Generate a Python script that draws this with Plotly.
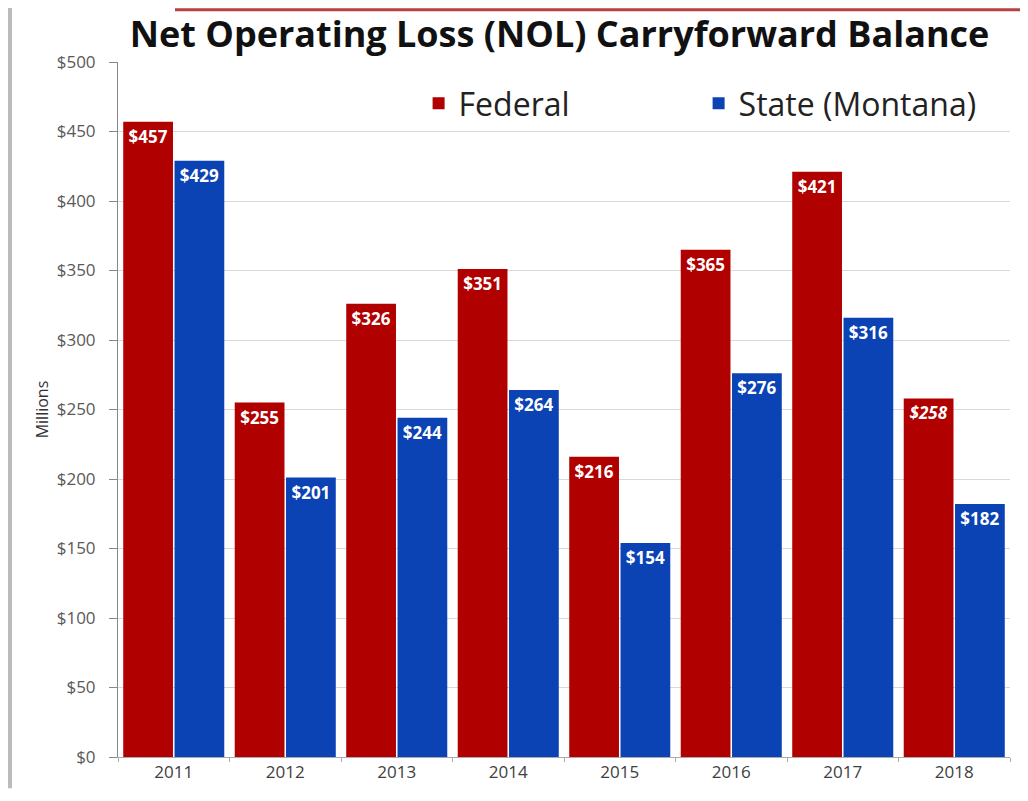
import plotly.graph_objects as go

years = ["2011", "2012", "2013", "2014", "2015", "2016", "2017", "2018"]
federal = [457, 255, 326, 351, 216, 365, 421, 258]
state = [429, 201, 244, 264, 154, 276, 316, 182]
y_ticks = [0, 50, 100, 150, 200, 250, 300, 350, 400, 450, 500]
y_tick_labels = ["$" + str(v) for v in y_ticks]

fed_text = ["$" + str(v) for v in federal]
fed_text[-1] = "<i>" + fed_text[-1] + "</i>"
state_text = ["$" + str(v) for v in state]

label_font = dict(family="Open Sans", size=17, color="white", weight="bold")

fig = go.Figure()
fig.add_trace(go.Bar(
    x=years, y=federal, name="Federal", marker=dict(color="#B00000", line=dict(width=0)),
    text=fed_text, textposition="inside", insidetextanchor="end", textangle=0,
    textfont=label_font,
))
fig.add_trace(go.Bar(
    x=years, y=state, name="State (Montana)", marker=dict(color="#0B42B4", line=dict(width=0)),
    text=state_text, textposition="inside", insidetextanchor="end", textangle=0,
    textfont=label_font,
))

fig.update_layout(
    width=1012, height=785,
    margin=dict(l=110, r=10, t=54, b=30),
    paper_bgcolor="white", plot_bgcolor="white",
    barmode="group", bargap=0.08, bargroupgap=0.03,
    uniformtext=dict(mode="show", minsize=10),
    title=dict(
        text="<b>Net Operating Loss (NOL) Carryforward Balance</b>",
        font=dict(family="Open Sans", size=36, color="#111111"),
        x=0.545, xanchor="center", y=0.967, yanchor="middle",
    ),
    legend=dict(
        orientation="h", x=0.337, y=0.98, xanchor="left", yanchor="top",
        font=dict(family="Open Sans", size=32, color="#222222"),
        bgcolor="rgba(255,255,255,0)", itemwidth=30, traceorder="normal",
        entrywidth=235,
    ),
    yaxis=dict(
        range=[0, 500], tickvals=y_ticks, ticktext=y_tick_labels,
        showgrid=True, gridcolor="#D9D9D9", gridwidth=1,
        showline=True, linecolor="#888888", linewidth=1,
        ticks="outside", ticklen=8, tickcolor="#888888", ticklabelstandoff=10,
        tickfont=dict(family="Open Sans", size=17, color="#595959"),
        title=dict(text="Millions", font=dict(family="Open Sans", size=16, color="#333333"), standoff=4),
        zeroline=False,
    ),
    xaxis=dict(
        showline=True, linecolor="#AAAAAA", linewidth=1,
        ticks="outside", ticklen=4, tickcolor="#AAAAAA", tickson="boundaries",
        tickfont=dict(family="Open Sans", size=17, color="#404040"),
        showgrid=False,
    ),
    shapes=[
        dict(type="line", xref="paper", yref="paper", x0=-0.1211, x1=-0.1211, y0=-0.045, y1=1.08,
             line=dict(color="#BBBBBB", width=4)),
        dict(type="line", xref="paper", yref="paper", x0=0.0639, x1=1.0112, y0=1.0752, y1=1.0752,
             line=dict(color="#B84040", width=3)),
    ],
)

fig.write_html("out.html")
